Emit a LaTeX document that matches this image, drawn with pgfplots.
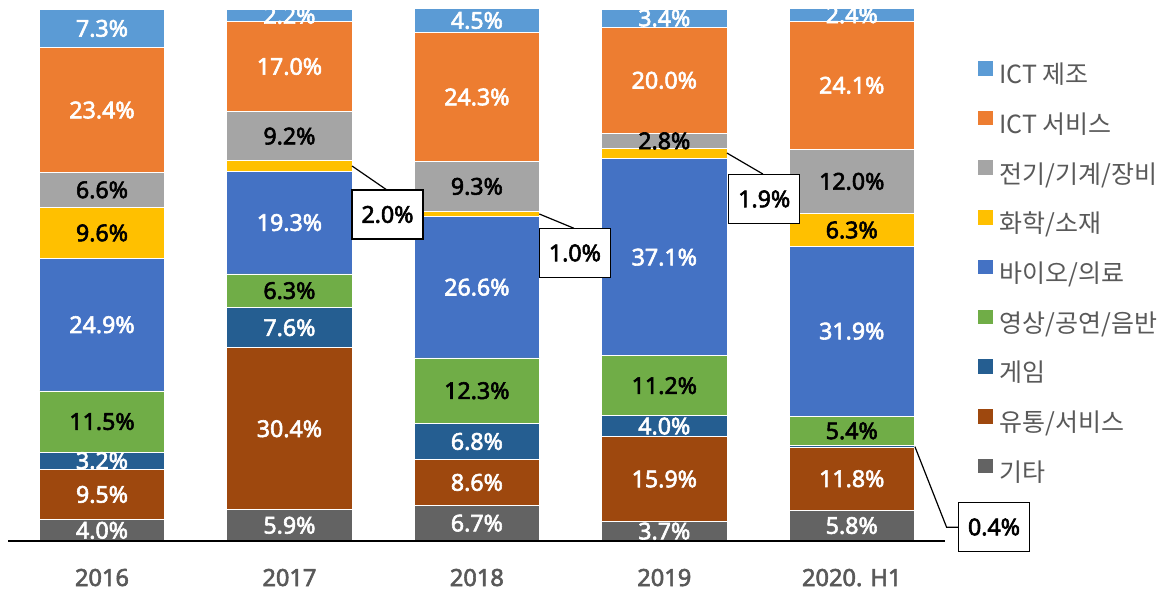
\documentclass[border=0pt]{standalone}
\usepackage{fontspec}
\setmainfont{Noto Sans}[AutoFakeBold=2.5]
\newfontfamily\kr{Noto Sans CJK KR}
\usepackage{pgfplots}
\usepackage{pgfplotstable}
\pgfplotsset{compat=1.18}
\definecolor{cM}{HTML}{5B9BD5}
\definecolor{cS}{HTML}{ED7D31}
\definecolor{cE}{HTML}{A5A5A5}
\definecolor{cC}{HTML}{FFC000}
\definecolor{cB}{HTML}{4472C4}
\definecolor{cV}{HTML}{70AD47}
\definecolor{cGm}{HTML}{255E91}
\definecolor{cD}{HTML}{9E480E}
\definecolor{cG}{HTML}{636363}
\definecolor{lgray}{HTML}{595959}

\pgfplotstableread{
x G D Gm V B C E S M
0 4.0 9.5 3.2 11.5 24.9 9.6 6.6 23.4 7.3
1 5.9 30.4 7.6 6.3 19.3 2.0 9.2 17.0 2.2
2 6.7 8.6 6.8 12.3 26.6 1.0 9.3 24.3 4.5
3 3.7 15.9 4.0 11.2 37.1 1.9 2.8 20.0 3.4
4 5.8 11.8 0.4 5.4 31.9 6.3 12.0 24.1 2.4
}\shares

% label positions (segment midpoints) and values
\pgfplotstableread{
x y v
0 2.0 4.0
0 8.75 9.5
0 15.1 3.2
0 40.65 24.9
0 81.0 23.4
0 96.35 7.3
1 2.95 5.9
1 21.1 30.4
1 40.1 7.6
1 59.85 19.3
1 89.2 17.0
1 98.8 2.2
2 3.35 6.7
2 11.0 8.6
2 18.7 6.8
2 47.7 26.6
2 83.45 24.3
2 97.85 4.5
3 1.85 3.7
3 11.65 15.9
3 21.6 4.0
3 53.35 37.1
3 86.6 20.0
3 98.3 3.4
4 2.9 5.8
4 11.7 11.8
4 39.45 31.9
4 85.65 24.1
4 98.9 2.4
}\whitelabels

\pgfplotstableread{
x y v
0 22.45 11.5
0 57.9 9.6
0 66.0 6.6
1 47.05 6.3
1 76.1 9.2
2 28.25 12.3
2 66.65 9.3
3 29.2 11.2
3 75.2 2.8
4 20.7 5.4
4 58.45 6.3
4 67.6 12.0
}\blacklabels

\pgfplotstableread{
x y v
1.523 61.37 2.0
2.523 54.14 1.0
3.533 64.29 1.9
4.759 2.63 0.4
}\calloutlabels

\pgfplotsset{
  pctlabel/.style={
    draw=none, mark=none, point meta=explicit,
    nodes near coords={\pgfmathprintnumber[fixed,fixed zerofill,precision=1]{\pgfplotspointmeta}\%},
    every node near coord/.append style={anchor=center, inner sep=0pt, font=\bfseries\fontsize{11.6}{12}\selectfont},
  },
}

\begin{document}
\begin{tikzpicture}
\useasboundingbox (0,0) rectangle (584.5pt,295.5pt);
\begin{axis}[
  at={(4.14pt,25pt)}, anchor=south west,
  scale only axis, width=468.6pt, height=266pt,
  xmin=-0.5, xmax=4.5, ymin=0, ymax=100,
  ybar stacked, bar width=62.7pt,
  axis lines=none, xtick=\empty, ytick=\empty,
  legend cell align=left, reverse legend,
  legend image code/.code={\fill[#1] (0pt,0.6pt) rectangle (7.8pt,8.4pt);},
  legend style={at={(axis description cs:1.0337,0.9041)}, anchor=north west,
    draw=none, fill=none, inner sep=0pt, outer sep=0pt, row sep=10.5pt,
    font=\kr\fontsize{12.5}{13}\selectfont,
    nodes={inner xsep=3pt, inner ysep=0pt, text height=9pt, text depth=2.5pt, text=lgray}},
]
\addplot[fill=cG, draw=white, line width=0.4pt] table[x=x,y=G] {\shares};
\addlegendentry{기타}
\addplot[fill=cD, draw=white, line width=0.4pt] table[x=x,y=D] {\shares};
\addlegendentry{유통/서비스}
\addplot[fill=cGm, draw=white, line width=0.4pt] table[x=x,y=Gm] {\shares};
\addlegendentry{게임}
\addplot[fill=cV, draw=white, line width=0.4pt] table[x=x,y=V] {\shares};
\addlegendentry{영상/공연/음반}
\addplot[fill=cB, draw=white, line width=0.4pt] table[x=x,y=B] {\shares};
\addlegendentry{바이오/의료}
\addplot[fill=cC, draw=white, line width=0.4pt] table[x=x,y=C] {\shares};
\addlegendentry{화학/소재}
\addplot[fill=cE, draw=white, line width=0.4pt] table[x=x,y=E] {\shares};
\addlegendentry{전기/기계/장비}
\addplot[fill=cS, draw=white, line width=0.4pt] table[x=x,y=S] {\shares};
\addlegendentry{ICT 서비스}
\addplot[fill=cM, draw=white, line width=0.4pt] table[x=x,y=M] {\shares};
\addlegendentry{ICT 제조}
\end{axis}

\begin{axis}[
  at={(4.14pt,25pt)}, anchor=south west,
  scale only axis, width=468.6pt, height=266pt,
  xmin=-0.5, xmax=4.5, ymin=0, ymax=100,
  clip=false, axis on top,
  axis x line*=bottom, axis y line=none,
  x axis line style={-, black, line width=1pt},
  xtick={0,1,2,3,4}, xticklabels={2016,2017,2018,2019,2020. H1},
  xtick style={draw=none}, ytick=\empty,
  xticklabel style={anchor=base, yshift=-22.5pt, font=\bfseries\fontsize{11.8}{12}\selectfont, text=lgray},
  /pgf/number format/assume math mode=true,
]
\addplot[pctlabel, every node near coord/.append style={text=white}] table[x=x,y=y,meta=v] {\whitelabels};
\addplot[pctlabel, every node near coord/.append style={text=black}] table[x=x,y=y,meta=v] {\blacklabels};
\addplot[black, line width=0.6pt, mark=none] coordinates {(1.334,70.49) (1.520,65.98)};
\addplot[black, line width=0.6pt, mark=none] coordinates {(2.333,61.47) (2.518,58.78)};
\addplot[black, line width=0.6pt, mark=none] coordinates {(3.334,72.93) (3.526,68.98)};
\addplot[black, line width=0.6pt, mark=none] coordinates {(4.337,17.73) (4.506,2.58) (4.570,2.58)};
\addplot[pctlabel, every node near coord/.append style={draw=black, fill=white, line width=0.75pt, minimum width=35.5pt, minimum height=24.5pt, text=black}] table[x=x,y=y,meta=v] {\calloutlabels};
\end{axis}
\end{tikzpicture}
\end{document}
